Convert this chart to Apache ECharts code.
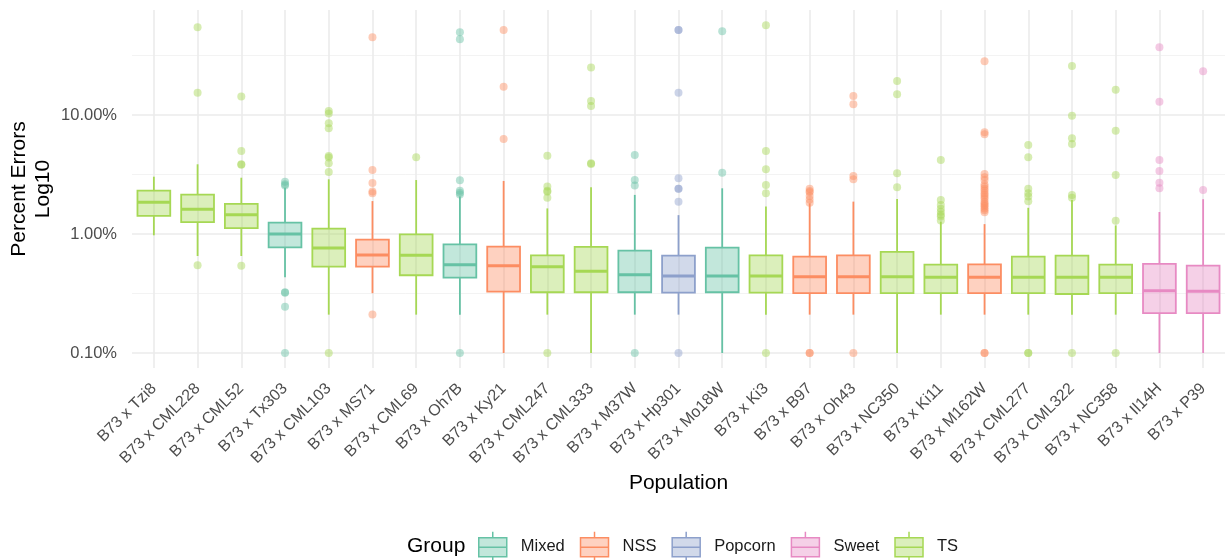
<!DOCTYPE html>
<html>
<head>
<meta charset="utf-8">
<script src="https://cdn.jsdelivr.net/npm/echarts@6/dist/echarts.min.js"></script>
<style>html,body{margin:0;padding:0;background:#fff}#c{width:1225px;height:560px}</style>
</head>
<body>
<div id="c"></div>
<script>
const categories = ['B73 x Tzi8','B73 x CML228','B73 x CML52','B73 x Tx303','B73 x CML103','B73 x MS71','B73 x CML69','B73 x Oh7B','B73 x Ky21','B73 x CML247','B73 x CML333','B73 x M37W','B73 x Hp301','B73 x Mo18W','B73 x Ki3','B73 x B97','B73 x Oh43','B73 x NC350','B73 x Ki11','B73 x M162W','B73 x CML277','B73 x CML322','B73 x NC358','B73 x Il14H','B73 x P39'];
const groups = ['TS','TS','TS','Mixed','TS','NSS','TS','Mixed','NSS','TS','TS','Mixed','Popcorn','Mixed','TS','NSS','NSS','TS','TS','NSS','TS','TS','TS','Sweet','Sweet'];
const groupNames = ['Mixed','NSS','Popcorn','Sweet','TS'];
const groupColors = ['#66C2A5','#FC8D62','#8DA0CB','#E78AC3','#A6D854'];
const groupFills = ['rgba(102,194,165,0.4)','rgba(252,141,98,0.4)','rgba(141,160,203,0.4)','rgba(231,138,195,0.4)','rgba(166,216,84,0.4)'];
// percent values
const boxMin    = [0.975,0.653,0.653,0.432,0.21,0.318,0.21,0.21,0.1,0.21,0.1,0.21,0.21,0.1,0.21,0.21,0.21,0.1,0.21,0.21,0.21,0.21,0.21,0.1,0.1];
const boxQ1     = [1.42,1.26,1.12,0.773,0.531,0.531,0.45,0.43,0.328,0.324,0.324,0.324,0.321,0.324,0.321,0.318,0.318,0.318,0.319,0.318,0.319,0.313,0.319,0.216,0.216];
const boxMedian = [1.85,1.61,1.45,1.0,0.763,0.667,0.662,0.552,0.542,0.531,0.486,0.455,0.444,0.444,0.444,0.438,0.438,0.438,0.432,0.432,0.432,0.432,0.432,0.334,0.33];
const boxQ3     = [2.31,2.14,1.79,1.245,1.11,0.896,0.994,0.819,0.782,0.662,0.778,0.724,0.657,0.767,0.662,0.645,0.662,0.706,0.552,0.556,0.645,0.657,0.552,0.56,0.542];
const boxMax    = [3.03,3.85,2.97,2.44,2.88,1.89,2.84,2.06,2.79,1.64,2.47,2.13,1.44,2.42,1.7,1.81,1.87,1.97,1.27,1.21,1.66,1.93,1.18,1.53,1.96];
const outliers = [
  [],
  [54.6,15.4,0.546],
  [14.3,4.98,3.82,3.85,0.54],
  [2.75,2.62,2.55,0.324,0.32,0.245,0.1],
  [10.8,10.3,8.5,7.73,4.52,4.4,3.93,3.32,0.1],
  [45,3.45,2.68,2.27,2.2,0.211],
  [4.41],
  [49.5,43.3,2.83,2.31,2.22,2.15,0.1],
  [51.8,17.3,6.29],
  [4.55,2.5,2.31,2.26,2.02,0.1],
  [25,13.1,11.9,3.93,3.88],
  [4.61,2.84,2.55,0.1],
  [51.8,51.8,15.4,2.94,2.4,2.4,1.87,0.1],
  [50.5,3.27],
  [56.7,4.98,3.5,2.58,2.2,0.1],
  [2.4,2.3,2.24,2.09,1.95,1.83,0.1,0.1],
  [14.4,12.3,3.07,2.88,0.1],
  [19.3,14.9,3.24,2.47],
  [4.19,1.93,1.75,1.63,1.54,1.45,1.4,1.3],
  [28.3,7.16,6.9,3.19,3.0,2.84,2.6,2.5,2.4,2.31,2.2,2.13,2.05,1.97,1.87,1.8,1.75,1.7,1.64,1.58,1.52,0.1,0.1],
  [5.6,4.41,2.4,2.2,2.06,1.88,0.1,0.1],
  [25.8,9.87,6.37,5.71,2.13,2.02,0.1],
  [16.3,7.38,3.13,1.29,0.1],
  [37,12.9,4.19,3.38,2.7,2.42],
  [23.3,2.34]
];
const yMajorTicks = [0.1, 1, 10];
const yMinorTicks = [0.316, 3.16, 31.6];
const yMinVal = 0.0748, yMaxVal = 76.2;

const FONT = 'Liberation Sans';
const chart = echarts.init(document.getElementById('c'), null, {renderer: 'canvas'});

const boxData = categories.map((c, i) => [i, boxMin[i], boxQ1[i], boxMedian[i], boxQ3[i], boxMax[i]]);

const gridLines = [];
yMajorTicks.forEach(v => gridLines.push({yAxis: v, lineStyle: {color: '#EBEBEB', width: 1.6, type: 'solid'}}));
yMinorTicks.forEach(v => gridLines.push({yAxis: v, lineStyle: {color: '#F2F2F2', width: 0.9, type: 'solid'}}));
categories.forEach(c => gridLines.push({xAxis: c, lineStyle: {color: '#EBEBEB', width: 1.6, type: 'solid'}}));

const series = [
  {
    type: 'scatter', name: '__grid', data: [], z: 0, silent: true,
    markLine: {z: 0, silent: true, symbol: 'none', label: {show: false}, animation: false, data: gridLines}
  },
  {
    type: 'custom', name: '__box', z: 2, data: boxData,
    encode: {x: 0, y: [1, 2, 3, 4, 5]},
    renderItem: function (params, api) {
      const i = api.value(0);
      const gi = groupNames.indexOf(groups[i]);
      const color = groupColors[gi], fill = groupFills[gi];
      const x = api.coord([i, api.value(3)])[0];
      const yMin = api.coord([i, api.value(1)])[1];
      const yQ1 = api.coord([i, api.value(2)])[1];
      const yMed = api.coord([i, api.value(3)])[1];
      const yQ3 = api.coord([i, api.value(4)])[1];
      const yMax = api.coord([i, api.value(5)])[1];
      const bw = api.size([1, 1])[0] * 0.75;
      return {
        type: 'group',
        children: [
          {type: 'line', shape: {x1: x, y1: yQ3, x2: x, y2: yMax}, style: {stroke: color, lineWidth: 1.8}},
          {type: 'line', shape: {x1: x, y1: yQ1, x2: x, y2: yMin}, style: {stroke: color, lineWidth: 1.8}},
          {type: 'rect', shape: {x: x - bw / 2, y: yQ3, width: bw, height: yQ1 - yQ3}, style: {fill: fill, stroke: color, lineWidth: 1.8}},
          {type: 'line', shape: {x1: x - bw / 2, y1: yMed, x2: x + bw / 2, y2: yMed}, style: {stroke: color, lineWidth: 3}}
        ]
      };
    }
  }
];

groupNames.forEach((g, k) => {
  const pts = [];
  categories.forEach((c, i) => {
    if (groups[i] === g) outliers[i].forEach(v => pts.push([i, v]));
  });
  series.push({
    type: 'scatter', name: g, data: pts, z: 3,
    symbol: 'circle', symbolSize: 8,
    itemStyle: {color: groupColors[k], opacity: 0.45}
  });
});

const iconPath = 'path://M0,6 L28,6 L28,25 L0,25 Z M0,15.5 L28,15.5 M14,0 L14,6 M14,25 L14,30';

chart.setOption({
  animation: false,
  backgroundColor: '#fff',
  grid: {left: 132, right: 0, top: 10, bottom: 192, containLabel: false, outerBoundsMode: 'none'},
  xAxis: {
    type: 'category', data: categories, boundaryGap: true,
    axisLine: {show: false}, axisTick: {show: false}, splitLine: {show: false},
    axisLabel: {interval: 0, rotate: 45, margin: 18, color: '#4D4D4D', fontSize: 16, fontFamily: FONT},
    name: 'Population', nameLocation: 'middle', nameGap: 105, nameMoveOverlap: false,
    nameTextStyle: {color: '#000', fontSize: 21, fontFamily: FONT}
  },
  yAxis: {
    type: 'log', logBase: 10, min: yMinVal, max: yMaxVal,
    axisLine: {show: false}, axisTick: {show: false}, splitLine: {show: false}, minorSplitLine: {show: false},
    axisLabel: {
      showMinLabel: false, showMaxLabel: false, margin: 15, color: '#4D4D4D', fontSize: 16.5, fontFamily: FONT,
      formatter: function (v) {
        const ok = yMajorTicks.some(t => Math.abs(v - t) / t < 1e-6);
        return ok ? v.toFixed(2) + '%' : '';
      }
    },
    name: 'Percent Errors\nLog10', nameLocation: 'middle', nameRotate: 90, nameGap: 77, nameMoveOverlap: false,
    nameTextStyle: {color: '#000', fontSize: 21, fontFamily: FONT, lineHeight: 24, align: 'center'}
  },
  legend: {
    left: 478, top: 531, orient: 'horizontal', selectedMode: false, padding: 0,
    itemWidth: 28, itemHeight: 30, itemGap: 15,
    textStyle: {color: '#1A1A1A', fontSize: 16.5, fontFamily: FONT, padding: [0, 0, 0, 9]},
    data: groupNames.map((g, k) => ({
      name: g, icon: iconPath,
      itemStyle: {color: groupFills[k], borderColor: groupColors[k], borderWidth: 1.5, opacity: 1}
    }))
  },
  graphic: [{
    type: 'text', left: 407, top: 536,
    style: {text: 'Group', fill: '#000', font: '21px "Liberation Sans"'}
  }],
  series: series
});
</script>
</body>
</html>
